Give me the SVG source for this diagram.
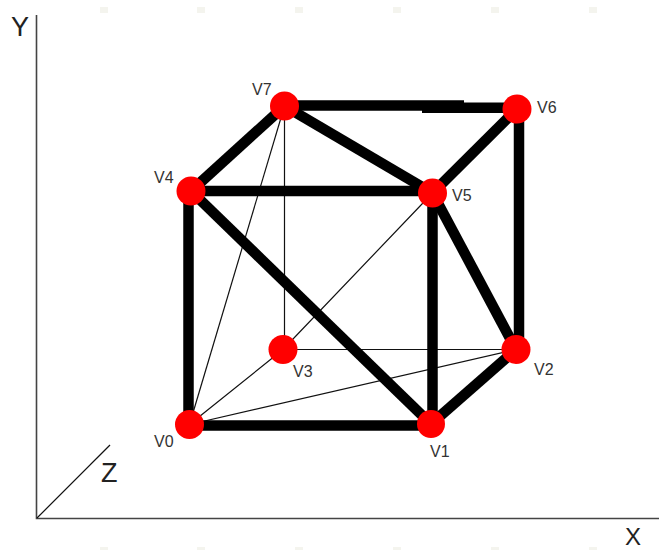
<svg xmlns="http://www.w3.org/2000/svg" width="659" height="550" viewBox="0 0 659 550">
<style>
.axis{stroke:#444;stroke-width:1.6;fill:none}
.thin{stroke:#111;stroke-width:1.2;fill:none}
.thick{stroke:#000;stroke-width:10.5;fill:none}
.v{fill:#f00}
.t{font-family:"Liberation Sans",Arial,sans-serif;font-size:16px;fill:#333}
.a{font-family:"Liberation Sans",Arial,sans-serif;font-size:27px;fill:#222}
.tick{fill:#f4f4ee}
</style>
<rect width="659" height="550" fill="#fff"/>
<g id="ticks">
<rect class="tick" x="100" y="7" width="8" height="6"/><rect class="tick" x="197" y="7" width="8" height="6"/><rect class="tick" x="295" y="7" width="8" height="6"/><rect class="tick" x="393" y="7" width="8" height="6"/><rect class="tick" x="491" y="7" width="8" height="6"/><rect class="tick" x="589" y="7" width="8" height="6"/>
<rect class="tick" x="100" y="547" width="8" height="3"/><rect class="tick" x="197" y="547" width="8" height="3"/><rect class="tick" x="295" y="547" width="8" height="3"/><rect class="tick" x="393" y="547" width="8" height="3"/><rect class="tick" x="491" y="547" width="8" height="3"/><rect class="tick" x="589" y="547" width="8" height="3"/>
</g>
<g id="connectors">
<path class="axis" d="M36.500 15V518.500H659"/>
<path class="thin" d="M37 518L110 445"/>
<path class="thin" d="M189.500 424.500L284.500 106"/>
<path class="thin" d="M284.500 106V349.500H516"/>
<path class="thin" d="M189.500 424.500L283 349.500L432.500 193"/>
<path class="thin" d="M189.500 424.500L516 349.500"/>
<path class="thick" d="M188.500 424V191"/>
<path class="thick" d="M189.500 425.500H431"/>
<path class="thick" d="M191 191H432.500"/>
<path class="thick" d="M284.500 105.500H464"/>
<path class="thick" d="M422 107.700H517"/>
<path class="thick" d="M191 191L284.500 106"/>
<path class="thick" d="M284.500 106L432.500 193"/>
<path class="thick" d="M432.500 193L517 109"/>
<path class="thick" d="M519 109V349.500"/>
<path class="thick" d="M432.500 193V424"/>
<path class="thick" d="M432.500 193L516 349.500"/>
<path class="thick" d="M191 191L431 424"/>
<path class="thick" d="M431 424L516 349.500"/>
</g>
<g id="axis-x"><text class="a" style="font-size:24px" x="625" y="544.500">X</text></g>
<g id="axis-y"><text class="a" x="11" y="36">Y</text></g>
<g id="axis-z"><text class="a" x="101" y="482">Z</text></g>
<g id="v0"><circle class="v" cx="189.500" cy="424.500" r="14.500"/><text class="t" x="154" y="447">V0</text></g>
<g id="v1"><circle class="v" cx="431" cy="424" r="14"/><text class="t" x="430" y="457">V1</text></g>
<g id="v2"><circle class="v" cx="516" cy="349.500" r="14.500"/><text class="t" x="534" y="375">V2</text></g>
<g id="v3"><circle class="v" cx="283" cy="349.500" r="14.500"/><text class="t" x="293" y="377">V3</text></g>
<g id="v4"><circle class="v" cx="191" cy="191" r="14.500"/><text class="t" x="154" y="183">V4</text></g>
<g id="v5"><circle class="v" cx="432.500" cy="193" r="14.500"/><text class="t" x="452" y="201">V5</text></g>
<g id="v6"><circle class="v" cx="517" cy="109" r="14.500"/><text class="t" x="537" y="113">V6</text></g>
<g id="v7"><circle class="v" cx="284.500" cy="106" r="14.500"/><text class="t" x="252" y="95">V7</text></g>
</svg>
